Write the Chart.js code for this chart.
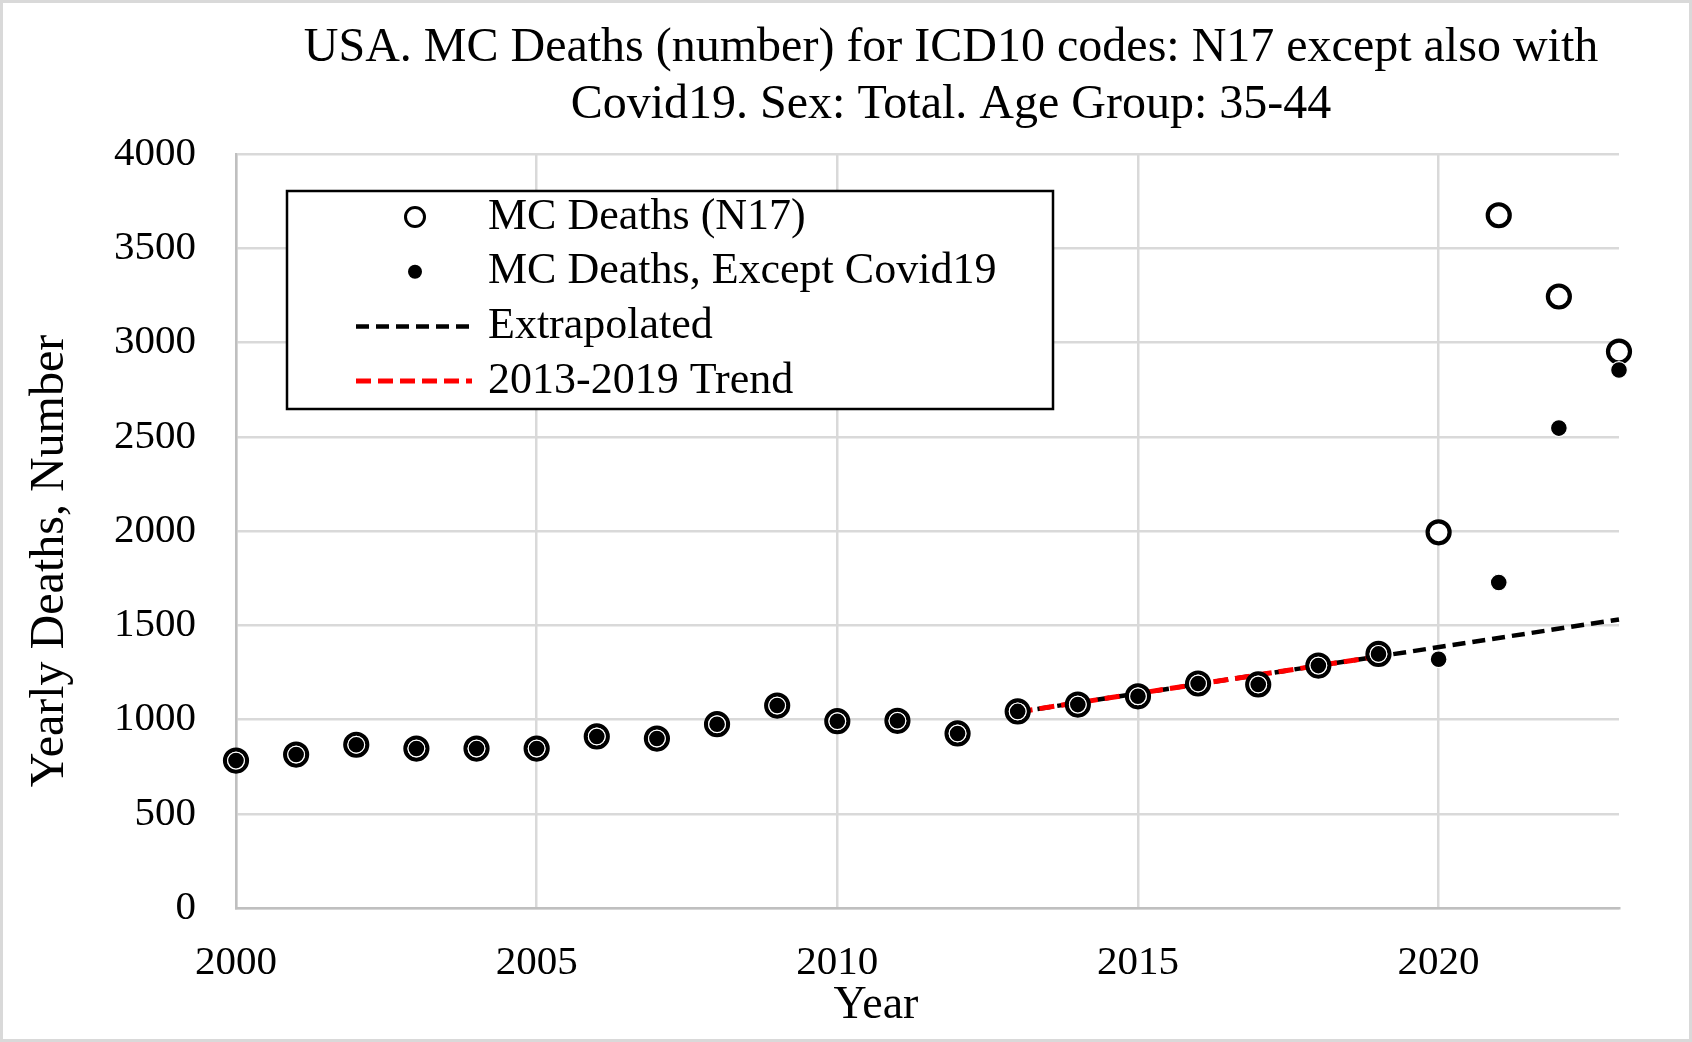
<!DOCTYPE html>
<html>
<head>
<meta charset="utf-8">
<script src="https://cdn.jsdelivr.net/npm/chart.js@4.4.1/dist/chart.umd.min.js"></script>
<style>
  html, body { margin: 0; padding: 0; background: #fff; }
</style>
</head>
<body>
<canvas id="chart" width="1692" height="1042"></canvas>
<script>
// data
const years = [2000, 2001, 2002, 2003, 2004, 2005, 2006, 2007, 2008, 2009, 2010, 2011,
               2012, 2013, 2014, 2015, 2016, 2017, 2018, 2019, 2020, 2021, 2022, 2023];
const deathsAll = [782, 814, 866, 846, 846, 846, 910, 899, 975, 1074, 991, 993,
                   926, 1043, 1079, 1123, 1191, 1186, 1286, 1348, 1993, 3675, 3244, 2952];
const deathsExCovid = [782, 814, 866, 846, 846, 846, 910, 899, 975, 1074, 991, 993,
                       926, 1043, 1079, 1123, 1191, 1186, 1286, 1348, 1320, 1727, 2546, 2854];
const trendYears = [2013, 2019];
const trendValues = [1040, 1335];
const extrapYears = [2013, 2023];
const extrapValues = [1040, 1531];
const xTicks = [2000, 2005, 2010, 2015, 2020];
const yTicks = [0, 500, 1000, 1500, 2000, 2500, 3000, 3500, 4000];

const titleLines = ['USA. MC Deaths (number) for ICD10 codes: N17 except also with',
                    'Covid19. Sex: Total. Age Group: 35-44'];
const xTitle = 'Year';
const yTitle = 'Yearly Deaths, Number';

const FONT = "'Liberation Serif', 'Times New Roman', serif";
const GRID = '#d9d9d9';

const toXY = (xs, ys) => xs.map((x, i) => ({ x: x, y: ys[i] }));

// titles, frame and the boxed legend are drawn here
const decorations = {
  id: 'decorations',
  beforeDraw(chart) {
    const ctx = chart.ctx;
    ctx.save();
    ctx.fillStyle = '#fff';
    ctx.fillRect(0, 0, chart.width, chart.height);
    ctx.restore();
  },
  afterDraw(chart) {
    const ctx = chart.ctx;
    ctx.save();

    // outer frame
    ctx.strokeStyle = GRID;
    ctx.lineWidth = 3;
    ctx.strokeRect(1.5, 1.5, chart.width - 3, chart.height - 3);

    ctx.fillStyle = '#000';
    ctx.textAlign = 'center';
    ctx.textBaseline = 'middle';

    // main title
    ctx.font = '48px ' + FONT;
    titleLines.forEach((line, i) => ctx.fillText(line, 951, 48 + i * 57));

    // axis titles
    ctx.font = '46px ' + FONT;
    ctx.fillText(xTitle, 876, 1006);
    ctx.save();
    ctx.translate(50, 561);
    ctx.rotate(-Math.PI / 2);
    ctx.font = '48px ' + FONT;
    ctx.fillText(yTitle, 0, 0);
    ctx.restore();

    // legend box
    const box = { x: 287, y: 191, w: 766, h: 218 };
    ctx.fillStyle = '#fff';
    ctx.fillRect(box.x, box.y, box.w, box.h);
    ctx.strokeStyle = '#000';
    ctx.lineWidth = 2.5;
    ctx.strokeRect(box.x, box.y, box.w, box.h);

    const entries = [0, 1, 2, 3];
    entries.forEach((idx, row) => {
      const ds = chart.data.datasets[idx];
      const cy = 217 + row * 54.7;
      if (ds.showLine === false) {
        ctx.beginPath();
        ctx.arc(415, cy, ds.legendRadius, 0, Math.PI * 2);
        ctx.fillStyle = ds.pointBackgroundColor;
        ctx.fill();
        if (ds.legendBorder > 0) {
          ctx.lineWidth = ds.legendBorder;
          ctx.strokeStyle = ds.pointBorderColor;
          ctx.stroke();
        }
      } else {
        ctx.beginPath();
        ctx.setLineDash(ds.borderDash);
        ctx.lineWidth = ds.borderWidth;
        ctx.strokeStyle = ds.borderColor;
        ctx.moveTo(356, cy);
        ctx.lineTo(472, cy);
        ctx.stroke();
        ctx.setLineDash([]);
      }
      ctx.fillStyle = '#000';
      ctx.textAlign = 'left';
      ctx.font = '44px ' + FONT;
      ctx.fillText(ds.label, 488, cy);
    });

    ctx.restore();
  }
};

new Chart(document.getElementById('chart'), {
  type: 'scatter',
  data: {
    datasets: [
      {
        label: 'MC Deaths (N17)',
        data: toXY(years, deathsAll),
        showLine: false,
        pointRadius: 11,
        pointBorderWidth: 4.2,
        pointBackgroundColor: '#fff',
        pointBorderColor: '#000',
        legendRadius: 9.5,
        legendBorder: 3,
        order: 1
      },
      {
        label: 'MC Deaths, Except Covid19',
        data: toXY(years, deathsExCovid),
        showLine: false,
        pointRadius: 8.4,
        pointBorderWidth: 1.2,
        pointBackgroundColor: '#000',
        pointBorderColor: '#fff',
        legendRadius: 7,
        legendBorder: 0,
        order: 0
      },
      {
        label: 'Extrapolated',
        data: toXY(extrapYears, extrapValues),
        showLine: true,
        borderColor: '#000',
        borderWidth: 4.5,
        borderDash: [13, 7],
        pointRadius: 0,
        order: 3
      },
      {
        label: '2013-2019 Trend',
        data: toXY(trendYears, trendValues),
        showLine: true,
        borderColor: '#ff0000',
        borderWidth: 5,
        borderDash: [15, 7],
        pointRadius: 0,
        order: 2
      }
    ]
  },
  options: {
    responsive: false,
    devicePixelRatio: 1,
    animation: false,
    clip: false,
    layout: { padding: { top: 154, right: 73, left: 0, bottom: 0 } },
    plugins: {
      legend: { display: false },
      title: { display: false },
      tooltip: { enabled: false }
    },
    scales: {
      x: {
        type: 'linear',
        min: 2000,
        max: 2023,
        afterBuildTicks: s => { s.ticks = xTicks.map(v => ({ value: v })); },
        afterFit: s => { s.height = 134; },
        grid: { color: GRID, lineWidth: 2.5, drawTicks: false },
        border: { color: '#bfbfbf', width: 2.5 },
        ticks: {
          color: '#000',
          padding: 31,
          maxRotation: 0,
          font: { family: FONT, size: 41 },
          callback: v => String(v)
        }
      },
      y: {
        min: 0,
        max: 4000,
        afterBuildTicks: s => { s.ticks = yTicks.map(v => ({ value: v })); },
        afterFit: s => { s.width = 236; },
        grid: { color: GRID, lineWidth: 2.5, drawTicks: false },
        border: { color: '#bfbfbf', width: 2.5 },
        ticks: {
          color: '#000',
          padding: 40,
          font: { family: FONT, size: 41 },
          callback: v => String(v)
        }
      }
    }
  },
  plugins: [decorations]
});
</script>
</body>
</html>
